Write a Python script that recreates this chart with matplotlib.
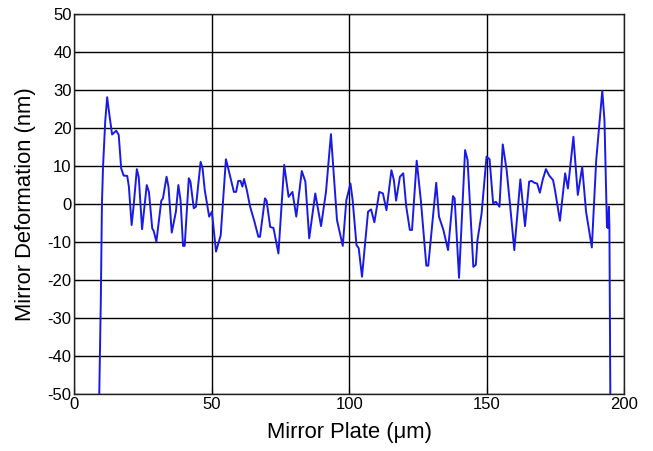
import matplotlib.pyplot as plt
import numpy as np

plt.rcParams['font.family'] = ['Liberation Sans', 'DejaVu Sans']
plt.rcParams['axes.unicode_minus'] = False

# traced profile of the mirror plate (um, nm)
plate_x = [8.8, 9.6, 10.0, 10.4, 11.2, 11.9, 12.8, 13.7, 15.2, 16.1, 17.0, 17.9, 19.2, 19.8,
           20.8, 21.5, 22.7, 23.4, 24.6, 26.3, 27.1, 28.3, 28.8, 29.8, 31.6, 32.2, 33.5, 34.2,
           35.4, 36.9, 37.8, 38.6, 39.5, 40.1, 41.6, 42.2, 43.4, 44.2, 45.9, 46.6, 47.4, 49.0,
           50.0, 51.5, 53.2, 55.1, 55.8, 58.0, 58.8, 59.6, 60.4, 61.1, 61.7, 62.7, 63.9, 65.4,
           66.9, 67.5, 69.3, 69.9, 71.2, 72.4, 74.2, 76.3, 77.9, 79.3, 80.7, 82.7, 84.0, 85.4,
           87.6, 89.7, 91.5, 93.3, 95.5, 97.6, 98.9, 100.4, 101.2, 102.6, 103.4, 104.6, 106.8,
           107.9, 109.1, 110.9, 112.2, 113.5, 115.3, 116.2, 117.0, 118.4, 119.6, 120.7, 122.0,
           122.8, 124.5, 126.0, 128.0, 128.7, 131.6, 132.6, 134.2, 135.9, 137.7, 138.3, 139.9,
           142.1, 143.0, 145.1, 146.0, 146.6, 148.1, 149.9, 151.0, 152.3, 153.3, 153.9, 154.6,
           155.8, 157.2, 158.4, 160.0, 162.2, 163.9, 165.4, 166.3, 167.3, 168.3, 169.3, 170.3,
           171.5, 172.7, 174.1, 174.8, 176.6, 178.5, 179.5, 181.5, 183.1, 184.7, 186.1, 188.2,
           189.8, 192.0, 192.8, 193.7, 194.0, 194.4, 194.6, 195.0]
plate_y = [-60.0, -25.0, 0.0, 9.8, 21.8, 28.1, 23.0, 18.3, 19.3, 18.2, 9.4, 7.5, 7.4, 4.6,
           -5.5, -0.7, 9.2, 7.0, -6.6, 5.0, 3.2, -6.4, -7.0, -9.9, 0.9, 1.5, 7.2, 4.6,
           -7.5, -2.0, 5.0, 1.0, -11.0, -11.0, 6.8, 5.9, -1.1, -0.7, 11.1, 9.4, 3.7, -3.3,
           -2.0, -12.5, -8.2, 11.8, 9.8, 3.2, 3.2, 6.1, 6.1, 4.6, 6.6, 3.7, -0.7, -4.4,
           -8.6, -8.6, 1.5, 0.9, -6.0, -6.3, -13.0, 10.3, 1.9, 3.2, -3.3, 8.7, 5.9, -9.0,
           2.8, -5.8, 3.2, 18.4, -4.2, -11.0, 1.0, 5.4, 1.0, -10.8, -11.6, -19.1, -2.0,
           -1.4, -4.8, 3.2, 2.8, -1.6, 8.9, 6.3, 0.9, 7.2, 8.1, -0.7, -6.8,
           -6.8, 11.4, 1.0, -16.2, -16.2, 5.6, -3.3, -6.8, -12.1, 2.1, 1.5, -19.4,
           14.2, 11.6, -16.5, -16.0, -9.5, -2.5, 12.5, 11.8, 0.2, 0.6, 0.0, -0.7,
           15.7, 9.0, 0.2, -12.1, 6.5, -5.8, 5.9, 6.1, 5.6, 5.4, 3.0, 6.3,
           9.2, 7.5, 6.3, 3.7, -4.4, 8.1, 4.1, 17.7, 2.4, 9.8, -2.0, -11.4,
           11.6, 29.8, 22.0, -6.0, -6.3, -0.7, -6.0, -60.0]

fig = plt.figure(figsize=(6.53, 4.51), dpi=100)
ax = fig.add_axes([0.114, 0.126, 0.842, 0.843])

ax.plot(plate_x, plate_y, color='#1a1ae6', linewidth=1.4)

ax.set_xlim(0, 200)
ax.set_ylim(-50, 50)
ax.set_xticks(np.arange(0, 201, 50))
ax.set_yticks(np.arange(-50, 51, 10))
ax.grid(True, color='black', linewidth=1.0)
ax.set_axisbelow(True)
ax.tick_params(direction='in', length=4, labelsize=12, pad=2)
for s in ax.spines.values():
    s.set_linewidth(1.0)
    s.set_color('#222222')

ax.set_xlabel('Mirror Plate (\u03bcm)', fontsize=15.8, labelpad=7)
ax.set_ylabel('Mirror Deformation (nm)', fontsize=15.8, labelpad=8)

fig.savefig('out.png', dpi=100)
